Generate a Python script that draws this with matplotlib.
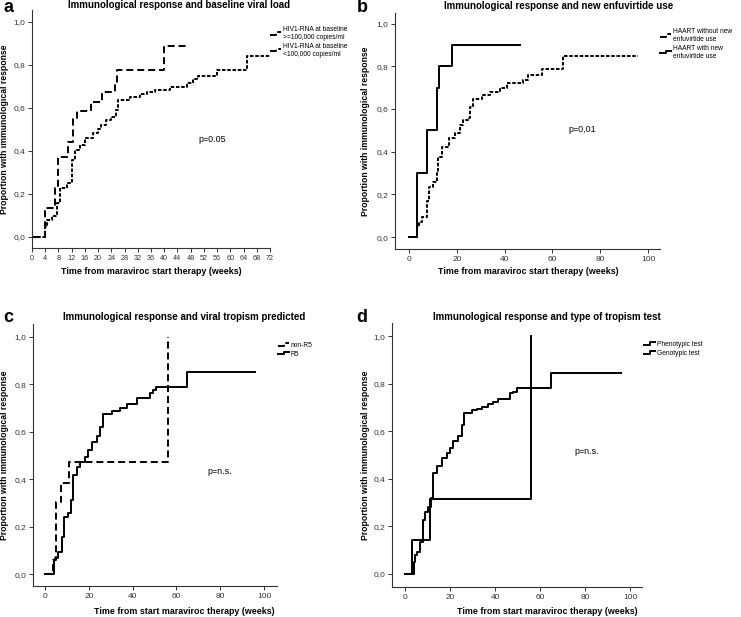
import matplotlib
matplotlib.use("Agg")
import matplotlib.pyplot as plt
from matplotlib.lines import Line2D
from matplotlib.legend_handler import HandlerBase
from matplotlib.ticker import FuncFormatter

plt.rcParams['font.family'] = ['Liberation Sans', 'DejaVu Sans']

# ---------------- data ----------------
# Panel a: baseline viral load
a_high_t = [0, 4, 7, 8, 10.8, 12.3, 13.5, 17.8, 21.3, 25.1, 25.8, 40, 47]
a_high_y = [0, 0.135, 0.23, 0.37, 0.44, 0.55, 0.585, 0.63, 0.673, 0.72, 0.777, 0.89, 0.89]
a_low_t = [0, 4, 4.5, 5.9, 7.5, 8.5, 10.5, 12, 13, 14.5, 16, 18.5, 20, 21, 22.4, 24, 25.4, 26,
           29.6, 32.7, 34.7, 37.2, 41.7, 46.8, 48.8, 50.3, 56, 65, 72]
a_low_y = [0, 0.048, 0.079, 0.10, 0.157, 0.228, 0.25, 0.358, 0.405, 0.428, 0.46, 0.483, 0.502, 0.52,
           0.544, 0.56, 0.59, 0.637, 0.653, 0.665, 0.676, 0.685, 0.699, 0.715, 0.734, 0.749, 0.777,
           0.842, 0.842]
a_labels = ["HIV1-RNA at baseline\n>=100,000 copies/ml", "HIV1-RNA at baseline\n<100,000 copies/ml"]
a_xticks = list(range(0, 73, 4))

# Panel b: new enfuvirtide use
b_with_t = [0, 3.5, 7.7, 11.8, 12.7, 17.9, 46.5]
b_with_y = [0, 0.30, 0.50, 0.70, 0.80, 0.90, 0.90]
b_without_t = [0, 3.5, 4, 5.3, 7.4, 8.2, 10.2, 11.6, 12.3, 13.7, 16.5, 19.2, 21.3, 22.7, 24.8, 25.5,
               26.6, 30.4, 33.9, 38, 40.9, 47.8, 49.8, 55.5, 64.3, 96]
b_without_y = [0, 0.048, 0.07, 0.095, 0.17, 0.236, 0.26, 0.30, 0.377, 0.424, 0.465, 0.488, 0.526,
               0.549, 0.557, 0.61, 0.646, 0.667, 0.682, 0.698, 0.721, 0.737, 0.76, 0.789, 0.85, 0.85]
b_labels = ["HAART without new\nenfuvirtide use", "HAART with new\nenfuvirtide use"]

# Panel c: viral tropism predicted
c_nonr5_t = [0, 3.8, 5, 7.2, 11.1, 56.3]
c_nonr5_y = [0, 0.06, 0.305, 0.385, 0.474, 1.0]
c_r5_t = [0, 4.1, 4.6, 6.1, 7.6, 8.7, 10.6, 11.7, 12.6, 14.5, 16, 18.3, 19.8, 21.3, 23.6, 25.1, 26.6,
          30.4, 34.2, 37.3, 41.9, 47.9, 49.5, 50.7, 65, 96]
c_r5_y = [0, 0.059, 0.07, 0.094, 0.157, 0.242, 0.257, 0.312, 0.418, 0.45, 0.474, 0.495, 0.523, 0.558,
          0.582, 0.62, 0.675, 0.689, 0.70, 0.716, 0.741, 0.762, 0.775, 0.79, 0.851, 0.851]
c_labels = ["non-R5", "R5"]

# Panel d: type of tropism test
d_pheno_t = [0, 4, 4.5, 5.2, 6.7, 7.9, 8.9, 10.4, 11.4, 12.3, 14.1, 16.3, 18.5, 20, 21.5, 23.7, 25.2,
             26.4, 29.6, 31.9, 34.1, 37, 39.3, 41.5, 46.7, 48.1, 49.9, 64.7, 95.9]
d_pheno_y = [0, 0.052, 0.08, 0.094, 0.136, 0.227, 0.262, 0.283, 0.318, 0.423, 0.454, 0.486, 0.507,
             0.528, 0.56, 0.58, 0.626, 0.675, 0.689, 0.695, 0.703, 0.713, 0.724, 0.735, 0.759, 0.766,
             0.783, 0.846, 0.846]
d_geno_t = [0, 3.3, 11.1, 56]
d_geno_y = [0, 0.143, 0.314, 1.0]
d_labels = ["Phenotypic test", "Genotypic test"]

y_ticks = [0.0, 0.2, 0.4, 0.6, 0.8, 1.0]

# ---------------- layout ----------------
W, H = 741, 617
fig = plt.figure(figsize=(W / 100, H / 100), dpi=100)
fig.patch.set_facecolor('white')

LONG = (0, (3.6, 2.0))
SHORT = (0, (1.8, 0.9))
LW = 1.4


def px_axes(left, top, right, bottom):
    return fig.add_axes([left / W, 1 - bottom / H, (right - left) / W, (bottom - top) / H])


class StepHandler(HandlerBase):
    def create_artists(self, legend, orig_handle, xdescent, ydescent, width, height, fontsize, trans):
        x0 = -xdescent
        xs = [x0, x0 + width * 0.55, x0 + width * 0.55, x0 + width]
        y0 = -ydescent + height * 0.25
        y1 = -ydescent + height * 0.85
        ys = [y0, y0, y1, y1]
        ln = Line2D(xs, ys, color='black', lw=orig_handle.get_linewidth(),
                    linestyle=orig_handle.get_linestyle())
        ln.set_transform(trans)
        return [ln]


comma = FuncFormatter(lambda v, p: ("%.1f" % v).replace('.', ','))


def style(ax, xlim, ylim, xticks, xlabel, title, title_xy, xlabel_xy, xls=6.0):
    ax.set_xlim(*xlim)
    ax.set_ylim(*ylim)
    ax.set_xticks(xticks)
    ax.set_yticks(y_ticks)
    ax.yaxis.set_major_formatter(comma)
    for s in ['top', 'right']:
        ax.spines[s].set_visible(False)
    for s in ['left', 'bottom']:
        ax.spines[s].set_linewidth(0.8)
        ax.spines[s].set_color('#333333')
    ax.tick_params(direction='out', length=3, width=0.7, labelsize=6.0, colors='#333333',
                   labelcolor='#333333', pad=2)
    ax.tick_params(axis='x', labelsize=xls)
    ax.set_facecolor('white')
    fig.text(title_xy[0] / W, 1 - title_xy[1] / H, title, ha='center', va='center',
             fontsize=7, fontweight='bold')
    fig.text(xlabel_xy[0] / W, 1 - xlabel_xy[1] / H, xlabel, ha='center', va='center',
             fontsize=6.4, fontweight='bold')


def leg(ax, handles, labels, x, y):
    ax.legend(handles, labels, handler_map={Line2D: StepHandler()},
              loc='upper left', bbox_to_anchor=(x / W, 1 - y / H), bbox_transform=fig.transFigure,
              frameon=False, fontsize=4.8, handlelength=1.6, handletextpad=0.3,
              labelspacing=0.25, borderpad=0, borderaxespad=0)


# ---- Panel a ----
ax = px_axes(32, 10, 270, 248)
h1, = ax.step(a_high_t, a_high_y, where='post', color='black', lw=LW, linestyle=LONG)
h2, = ax.step(a_low_t, a_low_y, where='post', color='black', lw=LW, linestyle=SHORT)
style(ax, (0, 72), (-0.051, 1.056), a_xticks, "Time from maraviroc start therapy (weeks)",
      "Immunological response and baseline viral load", (179, 5), (151, 271), xls=5.2)
leg(ax, [h1, h2], a_labels, 270, 26)
fig.text(212 / W, 1 - 139 / H, "p=0.05", ha='center', va='center', fontsize=6.4)

# ---- Panel b ----
ax = px_axes(395, 13, 660, 249)
h1, = ax.step(b_without_t, b_without_y, where='post', color='black', lw=LW, linestyle=SHORT)
h2, = ax.step(b_with_t, b_with_y, where='post', color='black', lw=LW, linestyle='-')
style(ax, (-5.9, 105), (-0.056, 1.05), [0, 20, 40, 60, 80, 100],
      "Time from maraviroc start therapy (weeks)",
      "Immunological response and new enfuvirtide use", (559, 6), (528, 272))
leg(ax, [h1, h2], b_labels, 660, 28)
fig.text(582 / W, 1 - 129 / H, "p=0,01", ha='center', va='center', fontsize=6.4)

# ---- Panel c ----
ax = px_axes(33, 324, 277, 586)
h1, = ax.step(c_nonr5_t, c_nonr5_y, where='post', color='black', lw=LW, linestyle=LONG)
h2, = ax.step(c_r5_t, c_r5_y, where='post', color='black', lw=LW, linestyle='-')
style(ax, (-5.5, 105.9), (-0.05, 1.055), [0, 20, 40, 60, 80, 100],
      "Time from start maraviroc therapy (weeks)",
      "Immunological response and viral tropism predicted", (184, 317), (184, 612))
leg(ax, [h1, h2], c_labels, 278, 342)
fig.text(220 / W, 1 - 472 / H, "p=n.s.", ha='center', va='center', fontsize=6.4)

# ---- Panel d ----
ax = px_axes(392, 323, 642, 587)
h1, = ax.step(d_pheno_t, d_pheno_y, where='post', color='black', lw=LW, linestyle='-')
h2, = ax.step(d_geno_t, d_geno_y, where='post', color='black', lw=LW, linestyle='-')
style(ax, (-5.8, 105.3), (-0.055, 1.055), [0, 20, 40, 60, 80, 100],
      "Time from start maraviroc therapy (weeks)",
      "Immunological response and type of tropism test", (547, 317), (547, 612))
leg(ax, [h1, h2], d_labels, 644, 341)
fig.text(587 / W, 1 - 451 / H, "p=n.s.", ha='center', va='center', fontsize=6.4)

# y labels
for (x, y) in [(5, 129), (365, 131), (5, 455), (365, 455)]:
    fig.text(x / W, 1 - y / H, "Proportion with immunological response", rotation=90,
             ha='center', va='center', fontsize=6.2, fontweight='bold')

# panel letters
for (x, y, s) in [(8, 8, 'a'), (362, 8, 'b'), (8, 318, 'c'), (362, 318, 'd')]:
    fig.text(x / W, 1 - y / H, s, ha='center', va='center', fontsize=13, fontweight='bold')

fig.savefig('out.png', dpi=100, facecolor='white')
